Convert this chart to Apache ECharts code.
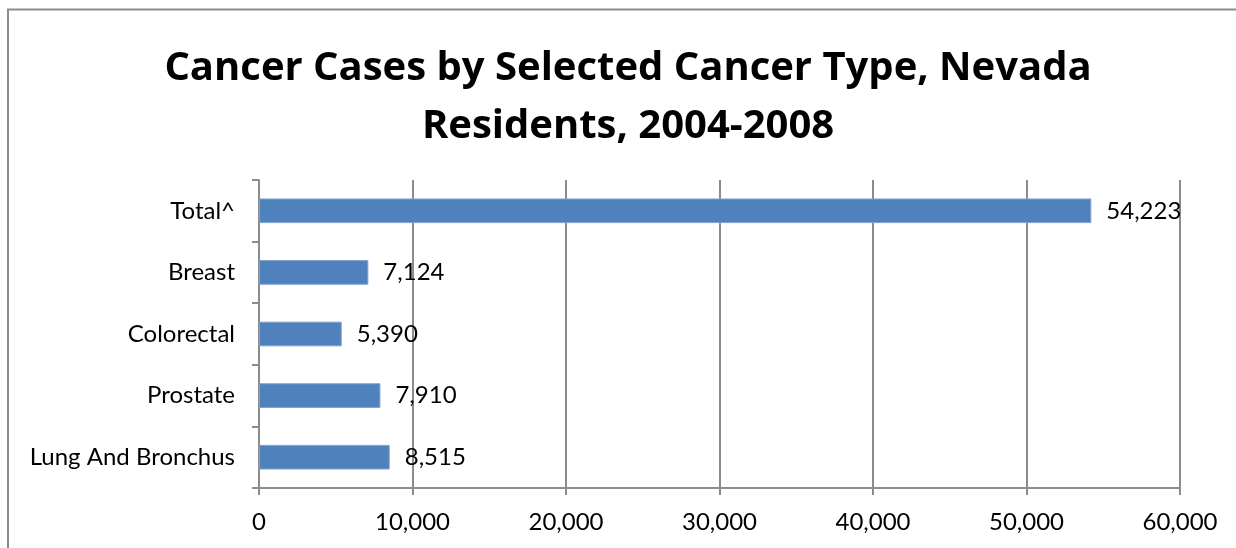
<!DOCTYPE html>
<html>
<head>
<meta charset="utf-8">
<script src="https://cdn.jsdelivr.net/npm/echarts@6/dist/echarts.min.js"></script>
<style>
html,body{margin:0;padding:0;background:#fff;}
#c{width:1236px;height:548px;}
</style>
</head>
<body>
<div id="c"></div>
<script>
var categories = ['Lung And Bronchus', 'Prostate', 'Colorectal', 'Breast', 'Total^'];
var cases = [8515, 7910, 5390, 7124, 54223];
var titleText = 'Cancer Cases by Selected Cancer Type, Nevada\nResidents, 2004-2008';

var FONT = 'Lato';
function fmt(v) { return Number(v).toLocaleString('en-US'); }

var chart = echarts.init(document.getElementById('c'), null, {renderer: 'canvas'});
chart.setOption({
  animation: false,
  backgroundColor: '#fff',
  graphic: [{
    type: 'polyline',
    shape: {points: [[8, 560], [8, 9.5], [1240, 9.5]]},
    style: {stroke: '#8c8c8c', lineWidth: 2, fill: null},
    silent: true
  }],
  title: {
    text: titleText,
    left: 623,
    textAlign: 'center',
    top: 35,
    textStyle: {fontFamily: 'Open Sans', fontSize: 40, fontWeight: 'bold', color: '#000', lineHeight: 58}
  },
  grid: {left: 259, right: 56, top: 180, bottom: 60},
  xAxis: {
    type: 'value',
    min: 0, max: 60000, interval: 10000,
    axisLine: {show: true, lineStyle: {color: '#8c8c8c', width: 2}},
    axisTick: {show: true, length: 7, lineStyle: {color: '#8c8c8c', width: 2}},
    splitLine: {show: true, lineStyle: {color: '#8c8c8c', width: 2}},
    axisLabel: {fontFamily: FONT, fontSize: 24, color: '#000', margin: 22, formatter: function (v) { return fmt(v); }}
  },
  yAxis: {
    type: 'category',
    data: categories,
    axisLine: {show: true, lineStyle: {color: '#8c8c8c', width: 2}},
    axisTick: {show: true, length: 7, lineStyle: {color: '#8c8c8c', width: 2}},
    axisLabel: {fontFamily: FONT, fontSize: 24, color: '#000', margin: 24}
  },
  series: [{
    type: 'bar',
    data: cases,
    barCategoryGap: '60%',
    itemStyle: {color: '#4F81BD', borderColor: '#7DA2CE', borderWidth: 1},
    label: {show: true, position: 'right', distance: 15, fontFamily: FONT, fontSize: 24, color: '#000', formatter: function (p) { return fmt(p.value); }}
  }]
});
</script>
</body>
</html>
